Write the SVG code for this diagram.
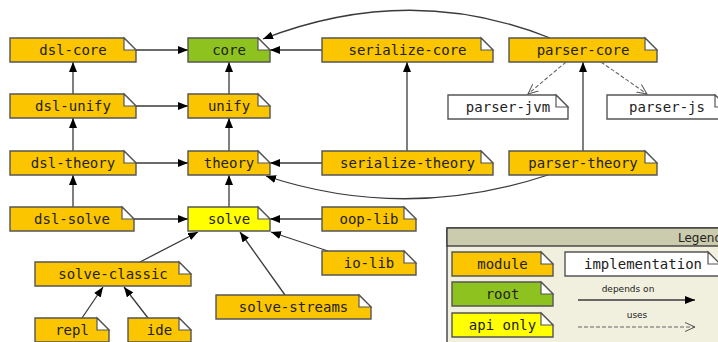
<svg xmlns="http://www.w3.org/2000/svg" width="718" height="342" viewBox="0 0 718 342">
<defs>
<style>
.box{stroke:#555;stroke-width:1.4}
.fold{fill:#fff;stroke:#555;stroke-width:1.2}
.mod{fill:#fbc500}
.root{fill:#8dc21f}
.api{fill:#ffff00}
.impl{fill:#fff}
.lbl{font-family:"DejaVu Sans Mono",monospace;font-size:14px;fill:#222;text-anchor:middle}
.dep{fill:none;stroke:#3a3a3a;stroke-width:1.3;marker-end:url(#ah)}
.use{fill:none;stroke:#666;stroke-width:1.1;stroke-dasharray:4 2;marker-end:url(#oh)}
.small{font-family:"DejaVu Sans",sans-serif;font-size:9px;fill:#222;text-anchor:middle}
</style>
<marker id="ah" viewBox="0 0 10 8" refX="10" refY="4" markerWidth="10" markerHeight="8" markerUnits="userSpaceOnUse" orient="auto">
<path d="M0,0 L10,4 L0,8 Z" fill="#000"/>
</marker>
<marker id="oh" viewBox="0 0 11 10" refX="10" refY="5" markerWidth="11" markerHeight="10" markerUnits="userSpaceOnUse" orient="auto">
<path d="M0,0.5 L10,5 L0,9.5" fill="none" stroke="#555" stroke-width="1"/>
</marker>
</defs>
<rect width="718" height="342" fill="#fff"/>

<g id="connectors">
<path class="dep" d="M136 50 H188"/>
<path class="dep" d="M136 106 H188"/>
<path class="dep" d="M136 163 H188"/>
<path class="dep" d="M134 219 H188"/>
<path class="dep" d="M322 50 H270"/>
<path class="dep" d="M322 163 H270"/>
<path class="dep" d="M322 219 H270"/>
<path class="dep" d="M73 94 V62"/>
<path class="dep" d="M73 151 V118"/>
<path class="dep" d="M73 207 V175"/>
<path class="dep" d="M229 94 V62"/>
<path class="dep" d="M229 151 V118"/>
<path class="dep" d="M229 207 V175"/>
<path class="dep" d="M407 151 V62"/>
<path class="dep" d="M583 151 V62"/>
<path class="dep" d="M328 251 L271 232"/>
<path class="dep" d="M285 295 L240 232"/>
<path class="dep" d="M140 262 L198 232"/>
<path class="dep" d="M82 318 L103 287"/>
<path class="dep" d="M148 318 L124 287"/>
<path class="dep" d="M550 38 Q410 -18 263 39"/>
<path class="dep" d="M548 175 Q405 222 266 176"/>
<path class="use" d="M566 62 L528 94"/>
<path class="use" d="M601 62 L647 94"/>
</g>

<g id="dsl-core"><path class="box mod" d="M10 38 H124 L136 50 V62 H10 Z"/><path class="fold" d="M124 38 V50 H136 Z"/><text class="lbl" x="73" y="55">dsl-core</text></g>
<g id="core"><path class="box root" d="M188 38 H258 L270 50 V62 H188 Z"/><path class="fold" d="M258 38 V50 H270 Z"/><text class="lbl" x="229" y="55">core</text></g>
<g id="serialize-core"><path class="box mod" d="M322 38 H481 L493 50 V62 H322 Z"/><path class="fold" d="M481 38 V50 H493 Z"/><text class="lbl" x="407.5" y="55">serialize-core</text></g>
<g id="parser-core"><path class="box mod" d="M509 38 H645 L657 50 V62 H509 Z"/><path class="fold" d="M645 38 V50 H657 Z"/><text class="lbl" x="583" y="55">parser-core</text></g>
<g id="parser-jvm"><path class="box impl" d="M448 95 H556 L568 107 V119 H448 Z"/><path class="fold" d="M556 95 V107 H568 Z"/><text class="lbl" x="508" y="112">parser-jvm</text></g>
<g id="parser-js"><path class="box impl" d="M607 95 H715 L727 107 V119 H607 Z"/><path class="fold" d="M715 95 V107 H727 Z"/><text class="lbl" x="667" y="112">parser-js</text></g>
<g id="dsl-unify"><path class="box mod" d="M10 94 H124 L136 106 V118 H10 Z"/><path class="fold" d="M124 94 V106 H136 Z"/><text class="lbl" x="73" y="111">dsl-unify</text></g>
<g id="unify"><path class="box mod" d="M188 94 H258 L270 106 V118 H188 Z"/><path class="fold" d="M258 94 V106 H270 Z"/><text class="lbl" x="229" y="111">unify</text></g>
<g id="dsl-theory"><path class="box mod" d="M10 151 H124 L136 163 V175 H10 Z"/><path class="fold" d="M124 151 V163 H136 Z"/><text class="lbl" x="73" y="168">dsl-theory</text></g>
<g id="theory"><path class="box mod" d="M188 151 H258 L270 163 V175 H188 Z"/><path class="fold" d="M258 151 V163 H270 Z"/><text class="lbl" x="229" y="168">theory</text></g>
<g id="serialize-theory"><path class="box mod" d="M322 151 H481 L493 163 V175 H322 Z"/><path class="fold" d="M481 151 V163 H493 Z"/><text class="lbl" x="407.5" y="168">serialize-theory</text></g>
<g id="parser-theory"><path class="box mod" d="M509 151 H645 L657 163 V175 H509 Z"/><path class="fold" d="M645 151 V163 H657 Z"/><text class="lbl" x="583" y="168">parser-theory</text></g>
<g id="dsl-solve"><path class="box mod" d="M10 207 H122 L134 219 V231 H10 Z"/><path class="fold" d="M122 207 V219 H134 Z"/><text class="lbl" x="72" y="224">dsl-solve</text></g>
<g id="solve"><path class="box api" d="M188 207 H258 L270 219 V231 H188 Z"/><path class="fold" d="M258 207 V219 H270 Z"/><text class="lbl" x="229" y="224">solve</text></g>
<g id="oop-lib"><path class="box mod" d="M322 207 H404 L416 219 V231 H322 Z"/><path class="fold" d="M404 207 V219 H416 Z"/><text class="lbl" x="369" y="224">oop-lib</text></g>
<g id="io-lib"><path class="box mod" d="M322 251 H404 L416 263 V275 H322 Z"/><path class="fold" d="M404 251 V263 H416 Z"/><text class="lbl" x="369" y="268">io-lib</text></g>
<g id="solve-classic"><path class="box mod" d="M35 262 H179 L191 274 V286 H35 Z"/><path class="fold" d="M179 262 V274 H191 Z"/><text class="lbl" x="113" y="279">solve-classic</text></g>
<g id="solve-streams"><path class="box mod" d="M216 295 H359 L371 307 V319 H216 Z"/><path class="fold" d="M359 295 V307 H371 Z"/><text class="lbl" x="293.5" y="312">solve-streams</text></g>
<g id="repl"><path class="box mod" d="M35 318 H97 L109 330 V342 H35 Z"/><path class="fold" d="M97 318 V330 H109 Z"/><text class="lbl" x="72" y="335">repl</text></g>
<g id="ide"><path class="box mod" d="M128 318 H179 L191 330 V342 H128 Z"/><path class="fold" d="M179 318 V330 H191 Z"/><text class="lbl" x="159.5" y="335">ide</text></g>

<g id="legend">
<rect x="447" y="228" width="300" height="130" fill="#f1efdd" stroke="#333" stroke-width="1.3"/>
<rect x="447" y="228" width="300" height="18" fill="#cbcbae" stroke="#333" stroke-width="1.3"/>
<text x="678" y="242" font-family="DejaVu Sans, sans-serif" font-size="12" fill="#222">Legend</text>
<g id="legend-module"><path class="box mod" d="M452 252 H541 L553 264 V276 H452 Z"/><path class="fold" d="M541 252 V264 H553 Z"/><text class="lbl" x="502.5" y="269">module</text></g>
<g id="legend-root"><path class="box root" d="M452 282 H541 L553 294 V306 H452 Z"/><path class="fold" d="M541 282 V294 H553 Z"/><text class="lbl" x="502.5" y="299">root</text></g>
<g id="legend-api"><path class="box api" d="M452 313 H541 L553 325 V337 H452 Z"/><path class="fold" d="M541 313 V325 H553 Z"/><text class="lbl" x="502.5" y="330">api only</text></g>
<g id="legend-impl"><path class="box impl" d="M565 252 H708 L720 264 V276 H565 Z"/><path class="fold" d="M708 252 V264 H720 Z"/><text class="lbl" x="643" y="269">implementation</text></g>
<text class="small" x="628" y="292">depends on</text>
<path class="dep" d="M578 300 H695"/>
<text class="small" x="637" y="318">uses</text>
<path class="use" d="M578 327 H695"/>
</g>
</svg>
